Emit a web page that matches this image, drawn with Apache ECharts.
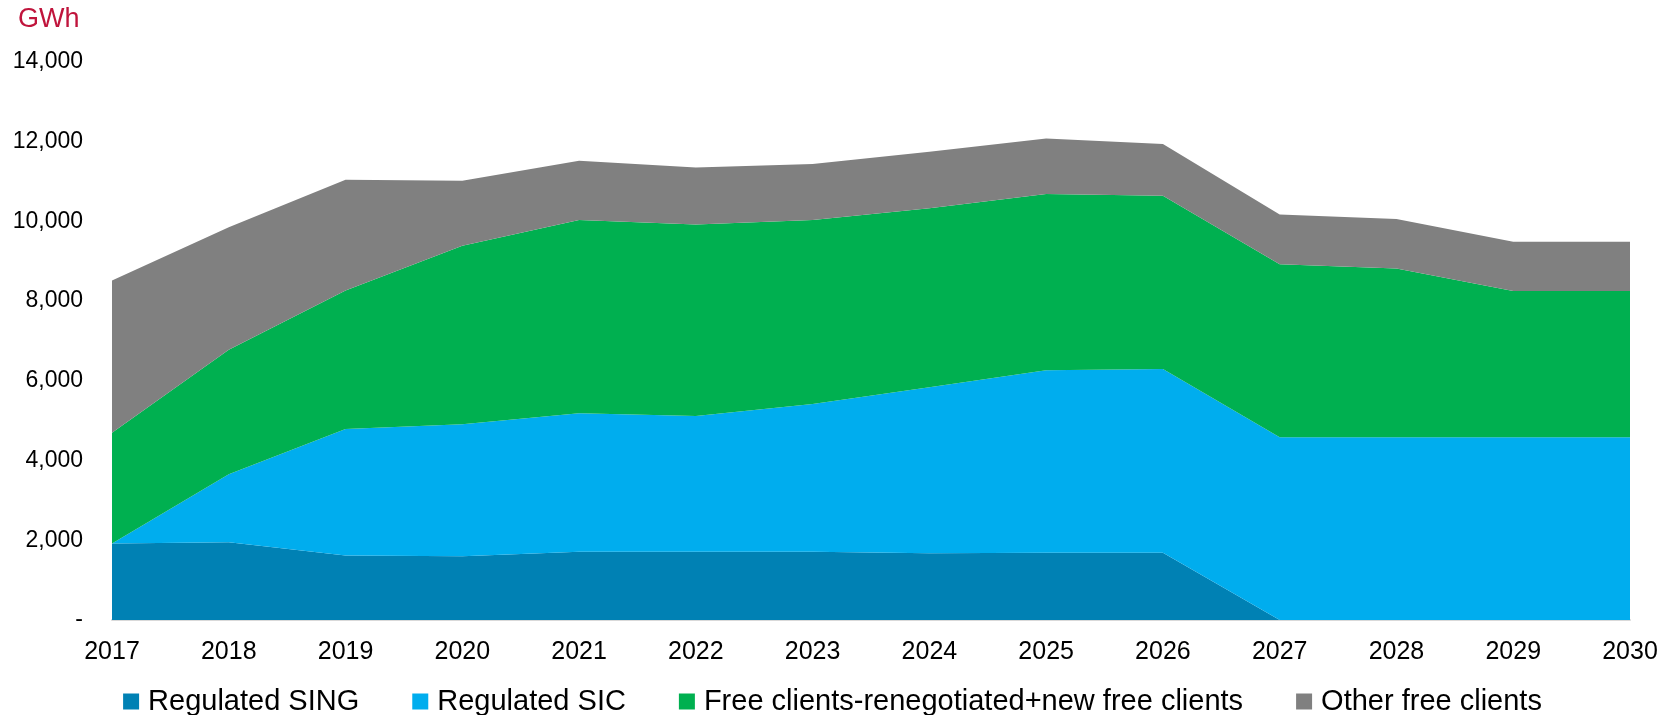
<!DOCTYPE html>
<html>
<head>
<meta charset="utf-8">
<script src="https://cdn.jsdelivr.net/npm/echarts@6/dist/echarts.min.js"></script>
<style>
html,body{margin:0;padding:0;background:#fff;}
#chart{width:1665px;height:715px;}
</style>
</head>
<body>
<div id="chart"></div>
<script>
const years = ['2017','2018','2019','2020','2021','2022','2023','2024','2025','2026','2027','2028','2029','2030'];
const regulatedSING = [1920,1950,1620,1600,1715,1715,1715,1675,1690,1690,0,0,0,0];
const regulatedSIC = [0,1705,3175,3310,3470,3405,3705,4165,4575,4605,4585,4585,4585,4585];
const freeRenegotiated = [2776,3124,3471,4480,4850,4805,4615,4490,4425,4348,4340,4231,3671,3671];
const otherFree = [3819,3073,2777,1630,1485,1425,1405,1420,1390,1297,1247,1246,1236,1236];
const seriesNames = ['Regulated SING','Regulated SIC','Free clients-renegotiated+new free clients','Other free clients'];
const colors = ['#0081b4','#00adee','#00b050','#808080'];
const yTicks = [0,2000,4000,6000,8000,10000,12000,14000];

const font = "'Liberation Sans', Arial, sans-serif";
const chart = echarts.init(document.getElementById('chart'));
const dataSets = [regulatedSING, regulatedSIC, freeRenegotiated, otherFree];
chart.setOption({
  animation: false,
  graphic: [{
    type: 'text', left: 18, top: 6,
    style: { text: 'GWh', font: "27px 'Liberation Sans', Arial, sans-serif", fill: '#c0143c' }
  }],
  grid: { left: 112, right: 35, top: 62, bottom: 95 },
  legend: {
    top: 682, left: 'center',
    itemWidth: 16, itemHeight: 16, itemGap: 53,
    icon: 'rect',
    data: seriesNames,
    textStyle: { fontFamily: font, fontSize: 29, color: '#000', padding: [0,0,0,4] }
  },
  xAxis: {
    type: 'category', data: years, boundaryGap: false,
    axisLine: { lineStyle: { color: '#d9d9d9', width: 2 } },
    axisTick: { show: false },
    axisLabel: { fontFamily: font, fontSize: 25, color: '#000', margin: 20 },
    splitLine: { show: false }
  },
  yAxis: {
    type: 'value', min: yTicks[0], max: yTicks[yTicks.length-1], interval: 2000,
    axisLine: { show: false }, axisTick: { show: false },
    splitLine: { show: false },
    axisLabel: {
      fontFamily: font, fontSize: 23, color: '#000', margin: 29,
      formatter: v => v === 0 ? '-' : v.toLocaleString('en-US')
    }
  },
  series: dataSets.map((d, i) => ({
    name: seriesNames[i], type: 'line', stack: 'total', data: d,
    symbol: 'none', smooth: false,
    lineStyle: { width: 0 },
    areaStyle: { color: colors[i], opacity: 1 },
    itemStyle: { color: colors[i] }
  }))
});
</script>
</body>
</html>
